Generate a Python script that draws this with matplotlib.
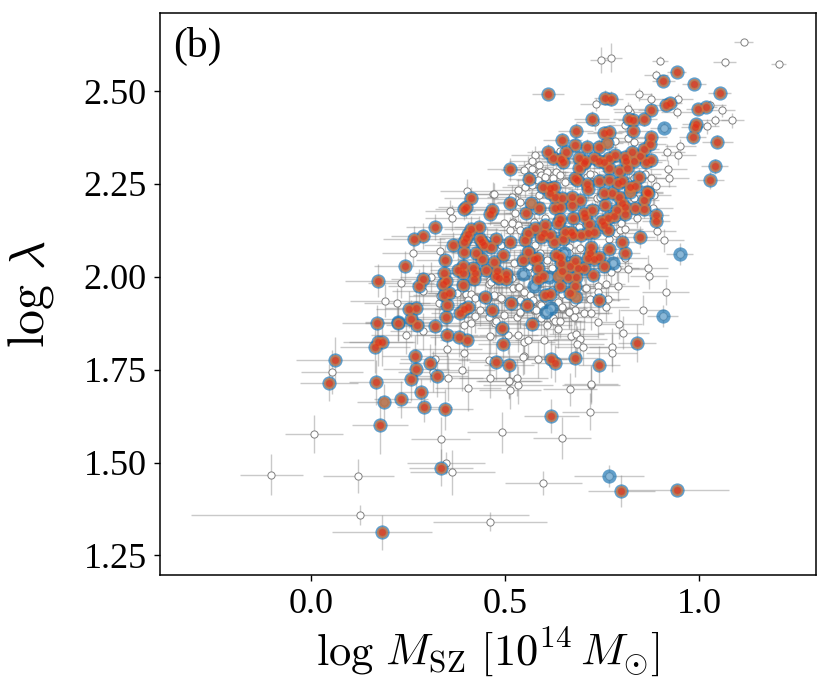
import numpy as np
import matplotlib
matplotlib.use('Agg')
from matplotlib import pyplot as plt

# clusters with no match
white_x = [0.007,-0.102,0.122,0.125,0.46,0.334,0.347,0.364,0.492,0.717,
           0.646,0.598,0.666,0.721,0.513,0.533,0.510,1.114,1.204,1.065,
           0.899,0.747,0.771,0.888,0.843,0.875,0.944,0.733,0.941,1.057,
           1.027,1.085,1.039,1.019,0.820,0.817,0.807,0.732,0.950,0.917,
           0.945,0.816,0.832,0.783,0.919,0.922,0.875,0.889,0.576,0.570,
           0.588,0.558,0.569,0.590,0.631,0.623,0.569,0.592,0.642,0.728,
           0.711,0.653,0.468,0.470,0.401,0.358,0.363,0.526,0.521,0.534,
           0.513,0.496,0.262,0.331,0.308,0.231,0.289,0.191,0.221,0.330,
           0.332,0.375,0.399,0.413,0.423,0.405,0.435,0.423,0.458,0.473,
           0.496,0.530,0.539,0.481,0.491,0.393,0.411,0.289,0.245,0.461,
           0.508,0.534,0.547,0.558,0.350,0.393,0.319,0.457,0.547,0.583,
           0.054,0.315,0.388,0.353,0.530,0.510,0.461,0.457,0.521,0.534,
           0.564,0.573,0.560,0.590,0.890,0.909,0.868,0.870,0.816,0.790,
           0.759,0.913,0.855,0.759,0.738,0.792,0.804,0.775,0.774,0.839,
           0.882,0.881,0.738,0.739,0.706,0.719,0.764,0.702,0.680,0.663,
           0.646,0.622,0.607,0.635,0.668,0.683,0.693,0.685,0.699,0.600,
           0.721,0.573,0.571,0.589,0.635,0.539,0.539,0.692,0.663,0.689,
           0.784,0.796,0.766,0.809,0.788,0.771,0.607,0.620,0.560,0.539,
           0.590,0.577,0.663,0.539,0.573,0.603,0.564,0.546,0.460,0.405,
           0.549,0.583,0.551,0.534,0.517,0.586,0.539,0.607,0.640,0.603,
           0.526,0.517,0.573,0.736,0.732,0.719,0.745,0.861,0.831,0.818,
           0.831,0.797,0.809,0.453,0.488,0.522,0.548,0.561,0.573,0.518,
           0.462,0.535,0.470,0.488,0.548,0.591,0.578,0.646,0.664,0.720,
           0.475,0.591,0.629,0.677,0.707,0.677,0.453,0.646,0.621,0.640]
white_y = [1.577,1.467,1.464,1.358,1.341,1.563,1.499,1.474,1.582,1.637,
           1.566,1.445,1.697,1.709,1.695,1.709,1.720,2.632,2.572,2.577,
           2.582,2.583,2.590,2.542,2.491,2.478,2.479,2.464,2.443,2.448,
           2.463,2.421,2.421,2.405,2.444,2.451,2.409,2.416,2.351,2.335,
           2.327,2.374,2.363,2.366,2.290,2.267,2.265,2.244,2.328,2.312,
           2.301,2.295,2.289,2.282,2.281,2.265,2.247,2.274,2.339,2.274,
           2.268,2.256,2.224,2.223,2.232,2.178,2.157,2.209,2.147,2.139,
           2.126,2.144,2.063,2.069,1.999,1.984,1.963,1.936,1.930,1.929,
           1.948,1.956,1.954,1.954,1.943,1.937,1.912,1.895,1.893,1.875,
           1.898,1.891,1.903,1.948,1.939,1.871,1.875,1.853,1.843,1.842,
           1.843,1.843,1.825,1.830,1.807,1.794,1.778,1.776,1.788,1.778,
           1.744,1.745,1.748,1.727,1.728,1.720,1.991,1.982,1.969,1.972,
           1.951,1.912,2.014,2.009,2.124,2.098,2.023,2.002,2.020,1.974,
           1.981,1.960,1.910,1.920,1.879,1.873,1.850,1.811,1.795,2.157,
           2.220,2.184,1.976,1.960,1.969,1.941,1.939,1.903,1.911,1.904,
           1.917,1.890,1.870,1.859,1.842,1.846,1.832,1.818,1.812,1.830,
           1.712,1.913,1.938,1.926,1.933,1.906,1.938,2.077,2.081,2.135,
           2.119,2.126,2.102,2.050,2.025,2.014,2.045,2.023,2.029,2.041,
           2.063,2.086,2.063,2.126,2.148,2.157,2.072,1.785,1.728,1.700,
           2.287,2.260,2.242,2.233,2.216,2.220,2.202,2.283,2.274,2.269,
           2.171,2.144,2.180,2.211,2.184,2.278,2.216,2.278,2.211,2.256,
           2.265,2.144,2.130,2.099,2.086,2.036,2.045,2.030,2.009,1.996,
           1.987,1.973,1.951,1.942,1.960,1.924,1.911,1.920,1.906,1.902,
           1.881,1.888,1.881,1.893,1.969,1.933,1.938,1.955,1.964,1.880]
white_xerr = [0.075,0.08,0.092,0.435,0.147,0.076,0.10,0.11,0.09,0.072,
              0.075,0.10,0.07,0.075,0.08,0.09,0.085,0.025,0.02,0.03,
              0.02,0.03,0.03,0.03,0.035,0.03,0.04,0.04,0.04,0.035,
              0.04,0.03,0.035,0.03,0.04,0.04,0.04,0.05,0.04,0.045,
              0.045,0.05,0.05,0.05,0.05,0.05,0.055,0.05,0.06,0.06,
              0.055,0.065,0.06,0.06,0.055,0.06,0.065,0.06,0.06,0.05,
              0.055,0.05,0.07,0.065,0.07,0.065,0.07,0.06,0.06,0.065,
              0.06,0.07,0.08,0.075,0.08,0.085,0.08,0.09,0.085,0.08,
              0.08,0.075,0.08,0.07,0.075,0.08,0.07,0.075,0.07,0.08,
              0.07,0.07,0.065,0.07,0.065,0.08,0.07,0.085,0.09,0.08,
              0.075,0.07,0.08,0.075,0.09,0.085,0.09,0.08,0.07,0.075,
              0.08,0.09,0.085,0.09,0.08,0.08,0.07,0.07,0.065,0.065,
              0.06,0.065,0.06,0.06,0.05,0.05,0.05,0.05,0.055,0.055,
              0.05,0.06,0.06,0.06,0.06,0.06,0.065,0.06,0.065,0.05,
              0.045,0.05,0.055,0.055,0.06,0.06,0.055,0.06,0.06,0.065,
              0.065,0.065,0.065,0.07,0.07,0.07,0.07,0.07,0.07,0.075,
              0.07,0.07,0.065,0.065,0.065,0.07,0.07,0.05,0.055,0.05,
              0.05,0.05,0.05,0.055,0.055,0.05,0.055,0.055,0.06,0.06,
              0.055,0.055,0.05,0.055,0.055,0.05,0.055,0.08,0.08,0.085,
              0.06,0.055,0.06,0.065,0.065,0.055,0.06,0.055,0.05,0.055,
              0.06,0.065,0.055,0.045,0.045,0.05,0.045,0.04,0.04,0.045,
              0.04,0.045,0.045,0.07,0.065,0.06,0.06,0.055,0.06,0.065,
              0.07,0.065,0.07,0.07,0.065,0.06,0.065,0.06,0.06,0.055,
              0.075,0.065,0.065,0.06,0.055,0.06,0.075,0.06,0.06,0.065]
white_yerr = [0.05,0.055,0.045,0.027,0.025,0.06,0.03,0.06,0.055,0.05,
              0.057,0.033,0.045,0.05,0.05,0.05,0.045,0.008,0.01,0.012,
              0.012,0.035,0.04,0.015,0.018,0.018,0.015,0.018,0.015,0.018,
              0.012,0.02,0.015,0.02,0.02,0.02,0.02,0.02,0.02,0.022,
              0.025,0.02,0.02,0.02,0.025,0.025,0.025,0.028,0.025,0.03,
              0.03,0.03,0.03,0.03,0.028,0.03,0.03,0.03,0.025,0.028,
              0.03,0.03,0.03,0.03,0.03,0.03,0.035,0.03,0.035,0.035,
              0.035,0.035,0.035,0.035,0.04,0.04,0.04,0.045,0.04,0.04,
              0.04,0.04,0.04,0.04,0.04,0.04,0.045,0.045,0.045,0.045,
              0.045,0.045,0.04,0.04,0.04,0.045,0.045,0.05,0.05,0.05,
              0.05,0.045,0.05,0.05,0.055,0.055,0.06,0.055,0.05,0.05,
              0.06,0.055,0.055,0.06,0.05,0.05,0.04,0.04,0.04,0.04,
              0.04,0.045,0.035,0.035,0.025,0.03,0.035,0.035,0.035,0.04,
              0.04,0.035,0.04,0.04,0.045,0.04,0.045,0.05,0.05,0.025,
              0.025,0.025,0.04,0.04,0.04,0.04,0.04,0.045,0.04,0.045,
              0.04,0.045,0.045,0.05,0.05,0.05,0.05,0.05,0.05,0.05,
              0.05,0.045,0.04,0.04,0.04,0.045,0.04,0.03,0.03,0.03,
              0.025,0.025,0.03,0.035,0.035,0.035,0.035,0.035,0.035,0.035,
              0.03,0.03,0.03,0.03,0.03,0.025,0.03,0.05,0.055,0.06,
              0.025,0.028,0.028,0.03,0.03,0.03,0.03,0.025,0.025,0.028,
              0.035,0.035,0.03,0.028,0.03,0.022,0.025,0.02,0.025,0.025,
              0.025,0.03,0.03,0.035,0.035,0.035,0.035,0.035,0.035,0.04,
              0.04,0.04,0.04,0.04,0.04,0.04,0.045,0.04,0.045,0.045,
              0.045,0.045,0.045,0.045,0.04,0.04,0.045,0.04,0.04,0.045]

# clusters matched in all three samples
red_x = [0.183,0.335,0.178,0.046,0.167,0.232,0.284,0.292,0.346,0.618,
         0.799,0.941,0.941,0.907,0.986,1.052,0.610,0.758,0.773,0.913,
         0.925,0.876,0.995,1.016,0.990,0.988,0.983,1.046,0.818,0.829,
         0.856,0.722,0.829,0.755,0.766,0.682,0.647,0.876,0.873,0.679,
         0.710,0.742,0.856,0.610,0.623,0.643,0.648,0.657,0.690,0.704,
         0.702,0.729,0.741,0.755,0.768,0.783,0.807,0.811,0.827,0.832,
         0.846,0.863,0.874,0.513,0.562,0.690,0.768,0.814,0.792,0.680,
         0.684,1.039,1.028,0.845,0.742,0.768,0.790,0.800,0.711,0.712,
         0.596,0.614,0.625,0.822,0.835,0.866,0.411,0.398,0.393,0.512,
         0.465,0.460,0.320,0.287,0.264,0.411,0.433,0.404,0.399,0.394,
         0.366,0.435,0.441,0.446,0.476,0.463,0.511,0.393,0.425,0.441,
         0.470,0.495,0.346,0.242,0.172,0.287,0.279,0.343,0.348,0.340,
         0.377,0.391,0.390,0.417,0.421,0.419,0.450,0.479,0.476,0.483,
         0.502,0.502,0.391,0.356,0.342,0.350,0.449,0.514,0.555,0.466,
         0.253,0.271,0.405,0.393,0.383,0.347,0.257,0.170,0.223,0.273,
         0.318,0.491,0.568,0.351,0.380,0.401,0.494,0.173,0.182,0.164,
         0.267,0.061,0.270,0.306,0.477,0.509,0.258,0.325,0.846,0.887,
         0.888,0.839,0.741,0.679,0.618,0.627,0.741,0.667,0.680,0.682,
         0.640,0.603,0.616,0.727,0.753,0.808,0.800,0.766,0.721,0.719,
         0.713,0.728,0.742,0.680,0.666,0.686,0.702,0.646,0.661,0.597,
         0.583,0.583,0.642,0.631,0.643,0.575,0.582,0.559,0.546,0.642,
         0.635,0.649,0.655,0.668,0.674,0.593,0.603,0.600,0.616,0.626,
         0.577,0.552,0.558,0.554,0.674,0.696,0.715,0.713,0.728,0.702,
         0.706,0.723,0.749,0.753,0.764,0.764,0.779,0.788,0.809,0.835,
         0.856,0.672,0.672,0.693,0.646,0.629,0.642,0.629,0.614,0.586,
         0.856,0.867,0.792,0.801,0.809,0.775,0.753,0.758]
red_y = [1.313,1.486,1.602,1.715,1.716,1.670,1.689,1.649,1.644,1.626,
         1.424,1.427,2.552,2.528,2.518,2.494,2.491,2.482,2.479,2.462,
         2.469,2.450,2.452,2.458,2.411,2.403,2.377,2.364,2.425,2.422,
         2.424,2.425,2.393,2.387,2.389,2.393,2.368,2.375,2.357,2.356,
         2.349,2.349,2.345,2.336,2.321,2.316,2.308,2.336,2.321,2.313,
         2.307,2.321,2.312,2.308,2.321,2.328,2.322,2.313,2.335,2.313,
         2.326,2.308,2.315,2.289,2.262,2.293,2.294,2.293,2.285,2.265,
         2.261,2.298,2.260,2.268,2.257,2.261,2.253,2.259,2.250,2.235,
         2.243,2.238,2.241,2.241,2.244,2.229,2.212,2.189,2.182,2.198,
         2.181,2.169,2.135,2.110,2.101,2.128,2.135,2.114,2.105,2.095,
         2.086,2.103,2.095,2.086,2.102,2.081,2.095,2.067,2.065,2.048,
         2.040,2.059,2.045,2.029,1.990,1.994,1.976,2.010,1.988,1.982,
         2.018,2.030,2.010,2.025,2.011,1.995,2.019,2.016,2.003,1.996,
         2.007,1.993,1.977,1.957,1.951,1.925,1.946,1.929,1.923,1.911,
         1.913,1.916,1.918,1.914,1.902,1.893,1.887,1.875,1.876,1.869,
         1.867,1.863,1.874,1.843,1.839,1.829,1.820,1.825,1.825,1.812,
         1.788,1.777,1.752,1.768,1.771,1.762,1.726,1.732,2.107,2.166,
         2.151,1.822,1.763,1.781,1.779,1.767,1.938,1.957,1.976,1.999,
         1.974,1.951,1.955,2.004,2.029,2.065,2.095,2.076,2.081,2.065,
         2.050,2.047,2.052,2.043,2.028,2.025,2.024,2.015,2.000,2.001,
         1.993,2.023,2.054,2.059,2.036,2.047,2.050,2.067,2.045,2.155,
         2.144,2.101,2.121,2.121,2.112,2.108,2.139,2.117,2.112,2.095,
         2.132,2.099,2.117,2.171,2.157,2.112,2.141,2.119,2.121,2.171,
         2.160,2.180,2.151,2.139,2.126,2.157,2.164,2.180,2.169,2.184,
         2.182,2.214,2.193,2.207,2.211,2.214,2.189,2.184,2.225,2.184,
         2.207,2.226,2.216,2.199,2.187,2.225,2.225,2.193]
red_xerr = [0.129,0.082,0.072,0.075,0.07,0.07,0.06,0.07,0.07,0.071,
            0.087,0.134,0.025,0.03,0.03,0.03,0.04,0.03,0.03,0.03,
            0.03,0.035,0.03,0.03,0.035,0.035,0.035,0.04,0.04,0.04,
            0.035,0.045,0.04,0.045,0.04,0.045,0.05,0.04,0.04,0.045,
            0.045,0.045,0.04,0.055,0.05,0.05,0.05,0.045,0.05,0.05,
            0.045,0.05,0.05,0.045,0.045,0.045,0.04,0.045,0.04,0.04,
            0.04,0.04,0.04,0.06,0.055,0.05,0.045,0.045,0.045,0.05,
            0.05,0.035,0.035,0.04,0.05,0.05,0.045,0.045,0.05,0.05,
            0.055,0.055,0.05,0.045,0.045,0.04,0.07,0.07,0.075,0.06,
            0.065,0.065,0.075,0.08,0.08,0.07,0.065,0.07,0.07,0.07,
            0.075,0.07,0.065,0.065,0.06,0.065,0.06,0.07,0.065,0.065,
            0.065,0.06,0.075,0.08,0.085,0.08,0.08,0.075,0.075,0.08,
            0.07,0.07,0.07,0.065,0.07,0.07,0.065,0.065,0.065,0.06,
            0.06,0.06,0.07,0.075,0.08,0.075,0.065,0.06,0.06,0.07,
            0.085,0.08,0.07,0.075,0.075,0.08,0.085,0.09,0.085,0.08,
            0.08,0.065,0.06,0.08,0.075,0.07,0.065,0.09,0.085,0.09,
            0.085,0.10,0.085,0.08,0.07,0.065,0.085,0.08,0.04,0.035,
            0.035,0.05,0.055,0.06,0.065,0.06,0.055,0.055,0.055,0.055,
            0.06,0.06,0.06,0.05,0.05,0.04,0.04,0.045,0.05,0.05,
            0.05,0.05,0.05,0.055,0.055,0.055,0.05,0.06,0.055,0.06,
            0.06,0.06,0.055,0.055,0.055,0.06,0.06,0.06,0.065,0.05,
            0.055,0.05,0.05,0.05,0.05,0.055,0.055,0.055,0.055,0.05,
            0.055,0.06,0.06,0.055,0.05,0.05,0.045,0.045,0.045,0.05,
            0.05,0.045,0.045,0.045,0.045,0.045,0.045,0.04,0.04,0.04,
            0.04,0.05,0.05,0.05,0.055,0.055,0.05,0.055,0.055,0.06,
            0.04,0.04,0.045,0.045,0.04,0.045,0.05,0.045]
red_yerr = [0.047,0.05,0.078,0.05,0.06,0.05,0.035,0.04,0.055,0.045,
            0.043,0.015,0.012,0.015,0.012,0.012,0.012,0.02,0.02,0.015,
            0.015,0.018,0.015,0.015,0.015,0.015,0.018,0.018,0.018,0.018,
            0.018,0.02,0.02,0.02,0.02,0.02,0.02,0.02,0.02,0.02,
            0.022,0.022,0.02,0.022,0.022,0.025,0.025,0.022,0.022,0.025,
            0.025,0.022,0.022,0.025,0.022,0.022,0.022,0.022,0.02,0.022,
            0.02,0.022,0.022,0.03,0.03,0.025,0.025,0.025,0.025,0.028,
            0.028,0.02,0.025,0.025,0.028,0.025,0.028,0.025,0.03,0.03,
            0.03,0.03,0.03,0.028,0.025,0.028,0.03,0.03,0.03,0.03,
            0.03,0.03,0.035,0.035,0.035,0.035,0.03,0.035,0.035,0.035,
            0.035,0.035,0.035,0.035,0.03,0.035,0.03,0.035,0.035,0.04,
            0.04,0.035,0.04,0.04,0.045,0.04,0.045,0.04,0.04,0.045,
            0.04,0.04,0.04,0.04,0.04,0.04,0.04,0.04,0.04,0.04,
            0.04,0.04,0.04,0.045,0.045,0.045,0.04,0.04,0.04,0.045,
            0.05,0.05,0.045,0.045,0.05,0.05,0.05,0.05,0.05,0.05,
            0.05,0.045,0.045,0.055,0.055,0.055,0.05,0.065,0.065,0.07,
            0.055,0.06,0.055,0.05,0.05,0.05,0.06,0.055,0.03,0.025,
            0.025,0.05,0.05,0.05,0.05,0.05,0.04,0.04,0.04,0.035,
            0.04,0.04,0.04,0.035,0.035,0.03,0.03,0.035,0.035,0.035,
            0.035,0.035,0.035,0.035,0.035,0.035,0.035,0.04,0.04,0.04,
            0.04,0.04,0.035,0.035,0.04,0.035,0.035,0.035,0.04,0.03,
            0.03,0.035,0.03,0.03,0.03,0.03,0.03,0.035,0.03,0.035,
            0.03,0.035,0.03,0.025,0.03,0.03,0.03,0.03,0.03,0.025,
            0.025,0.025,0.025,0.025,0.03,0.025,0.025,0.025,0.025,0.025,
            0.025,0.025,0.025,0.025,0.025,0.025,0.03,0.03,0.025,0.028,
            0.025,0.022,0.025,0.025,0.025,0.025,0.025,0.025]

# matched in two samples only
orange_x = [0.187,0.763,0.683,0.636,0.820,0.567]
orange_y = [1.662,2.360,1.947,2.002,2.229,2.200]
orange_xerr = [0.07,0.04,0.055,0.055,0.04,0.055]
orange_yerr = [0.05,0.02,0.04,0.035,0.025,0.03]

# matched in one sample only
blue_x = [0.768,0.908,0.949,0.905,0.777,0.618,0.604,0.573,0.546,0.612,0.650,0.225]
blue_y = [1.463,2.401,2.062,1.895,2.038,1.915,1.905,1.976,2.008,2.000,2.063,1.878]
blue_xerr = [0.09,0.035,0.035,0.04,0.05,0.06,0.06,0.06,0.06,0.055,0.05,0.085]
blue_yerr = [0.03,0.015,0.03,0.03,0.03,0.045,0.05,0.04,0.04,0.04,0.035,0.05]

x_ticks = [0.0, 0.5, 1.0]
y_ticks = [1.25, 1.50, 1.75, 2.00, 2.25, 2.50]

plt.rcParams['font.family'] = ['Liberation Serif', 'DejaVu Serif']
plt.rcParams['mathtext.fontset'] = 'cm'

fig = plt.figure(figsize=(8.3, 6.93), dpi=100)
ax = fig.add_axes([160/830, 1-575/693, 656/830, 562/693])

all_x = white_x + red_x + orange_x + blue_x
all_y = white_y + red_y + orange_y + blue_y
all_xerr = white_xerr + red_xerr + orange_xerr + blue_xerr
all_yerr = white_yerr + red_yerr + orange_yerr + blue_yerr

# error bars first, open circles on top of them
ax.errorbar(all_x, all_y, xerr=all_xerr, yerr=all_yerr, fmt='none',
            ecolor='gray', elinewidth=1.0, alpha=0.42, zorder=1)
ax.plot(all_x, all_y, 'o', mfc='white', mec='gray', mew=0.7, ms=5.2, ls='none', zorder=2)

blue_all_x = red_x + orange_x + blue_x
blue_all_y = red_y + orange_y + blue_y
orange_all_x = red_x + orange_x
orange_all_y = red_y + orange_y

ax.scatter(blue_all_x, blue_all_y, s=105, c='C0', alpha=0.7, lw=0, zorder=3)
ax.scatter(blue_x, blue_y, s=30, c='white', alpha=0.25, lw=0, zorder=3.5)
ax.scatter(orange_all_x, orange_all_y, s=62, c='#d9743a', alpha=0.75, lw=0, zorder=4)
ax.scatter(red_x, red_y, s=24, c='#e02a18', alpha=0.6, lw=0, zorder=5)

ax.set_xlim(-0.389, 1.30)
ax.set_ylim(1.1975, 2.71)
ax.set_xticks(x_ticks)
ax.set_xticklabels(['%.1f' % t for t in x_ticks])
ax.set_yticks(y_ticks)
ax.set_yticklabels(['%.2f' % t for t in y_ticks])
ax.tick_params(labelsize=26, length=4.5, width=1.0, pad=5)
for s in ax.spines.values():
    s.set_linewidth(1.1)

ax.set_xlabel(r'$\log\,M_{\rm SZ}\ [10^{14}\,M_{\odot}]$', fontsize=32, labelpad=3)
ax.set_ylabel(r'$\log\,\lambda$', fontsize=36, labelpad=20)
ax.text(0.02, 0.975, '(b)', transform=ax.transAxes, fontsize=30, va='top', ha='left')

plt.savefig('out.png', dpi=100)
plt.close()
